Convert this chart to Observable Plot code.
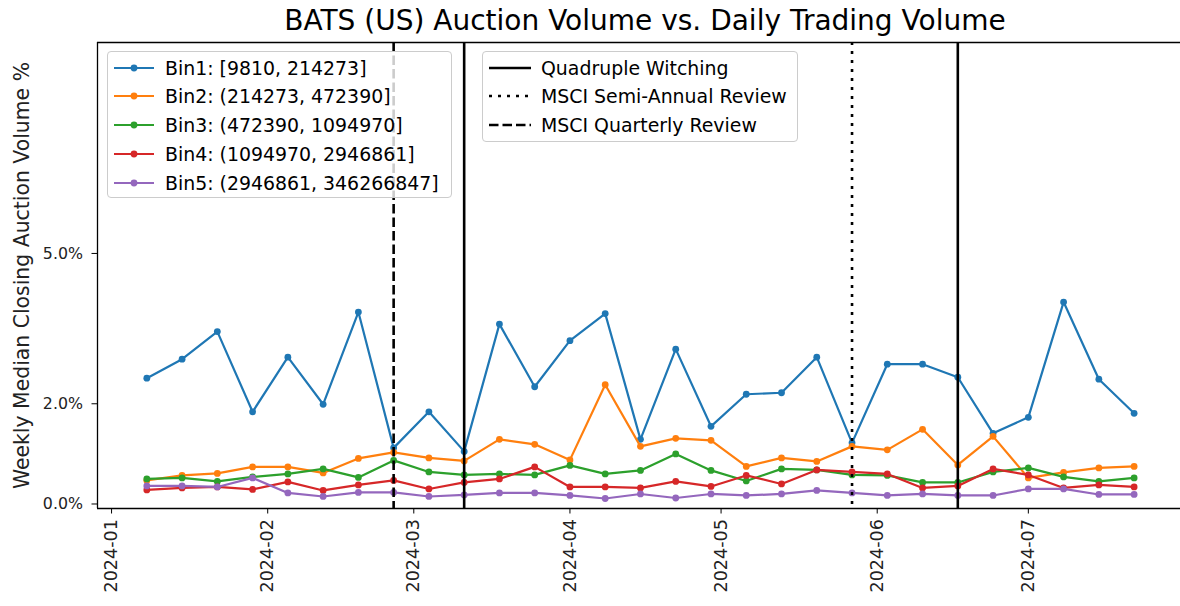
<!DOCTYPE html>
<html>
<head>
<meta charset="utf-8">
<script src="https://cdn.jsdelivr.net/npm/d3@7"></script>
<script src="https://cdn.jsdelivr.net/npm/@observablehq/plot@0.6"></script>
<style>
  html, body { margin: 0; padding: 0; background: #fff; }
  body { width: 1180px; height: 606px; position: relative; overflow: hidden; font-family: "DejaVu Sans", sans-serif; }
  #title { position: absolute; left: 0; top: 4px; width: 1290px; text-align: center; font-size: 28px; line-height: 34px; color: #000; white-space: nowrap; z-index: 3; }
  #chart { position: absolute; left: 0; top: 30px; z-index: 1; }
  .legend { position: absolute; z-index: 2; background: rgba(255,255,255,0.8); border: 1px solid #cccccc; border-radius: 4px; font-size: 18.9px; color: #000; box-sizing: border-box; }
  .legend .row { position: absolute; left: 0; display: flex; align-items: center; height: 28px; white-space: nowrap; }
  .legend svg { flex: none; }
</style>
</head>
<body>
<div id="title">BATS (US) Auction Volume vs. Daily Trading Volume</div>
<div id="chart"></div>
<div class="legend" id="leg1" style="left:107px; top:51px; width:345px; height:147px;"></div>
<div class="legend" id="leg2" style="left:482px; top:51px; width:316px; height:91px;"></div>
<script>
// ---- data ----
const weeks = ["2024-01-08","2024-01-15","2024-01-22","2024-01-29","2024-02-05","2024-02-12","2024-02-19","2024-02-26",
  "2024-03-04","2024-03-11","2024-03-18","2024-03-25","2024-04-01","2024-04-08","2024-04-15","2024-04-22","2024-04-29",
  "2024-05-06","2024-05-13","2024-05-20","2024-05-27","2024-06-03","2024-06-10","2024-06-17","2024-06-24","2024-07-01",
  "2024-07-08","2024-07-15","2024-07-22"];
const binNames = ["Bin1: [9810, 214273]","Bin2: (214273, 472390]","Bin3: (472390, 1094970]","Bin4: (1094970, 2946861]","Bin5: (2946861, 346266847]"];
const bin1 = [2.51,2.89,3.44,1.84,2.93,1.99,3.83,1.12,1.84,1.05,3.59,2.34,3.26,3.80,1.29,3.09,1.55,2.19,2.22,2.93,1.22,2.79,2.79,2.53,1.41,1.73,4.03,2.49,1.81];
const bin2 = [0.47,0.57,0.61,0.74,0.74,0.62,0.91,1.03,0.92,0.86,1.29,1.19,0.88,2.38,1.15,1.31,1.27,0.75,0.92,0.85,1.15,1.08,1.49,0.78,1.35,0.52,0.63,0.72,0.75];
const bin3 = [0.50,0.52,0.45,0.54,0.60,0.70,0.53,0.87,0.64,0.58,0.60,0.58,0.77,0.60,0.67,1.00,0.67,0.46,0.70,0.68,0.58,0.57,0.43,0.43,0.64,0.72,0.54,0.45,0.52];
const bin4 = [0.28,0.32,0.34,0.29,0.44,0.27,0.38,0.47,0.30,0.43,0.50,0.74,0.34,0.34,0.32,0.45,0.35,0.57,0.40,0.68,0.64,0.60,0.32,0.36,0.70,0.58,0.32,0.38,0.34];
const bin5 = [0.36,0.36,0.34,0.52,0.22,0.15,0.23,0.23,0.15,0.18,0.22,0.22,0.17,0.11,0.20,0.12,0.20,0.17,0.20,0.27,0.22,0.17,0.20,0.17,0.17,0.30,0.30,0.19,0.19];
const binColors = ["#1f77b4","#ff7f0e","#2ca02c","#d62728","#9467bd"];
const eventNames = ["Quadruple Witching","MSCI Semi-Annual Review","MSCI Quarterly Review"];
const eventDash = [null, "3,6", "9.5,4"];
const eventDates = [["2024-03-11","2024-06-17"],["2024-05-27"],["2024-02-26"]];
const monthTicks = ["2024-01-01","2024-02-01","2024-03-01","2024-04-01","2024-05-01","2024-06-01","2024-07-01"];
const yTicks = [0, 2, 5];
const xDomain = ["2023-12-29T05:00:00Z","2024-07-31T05:00:00Z"];
const yDomain = [-0.09, 9.21];
const yLabel = "Weekly Median Closing Auction Volume %";

// ---- build table ----
const series = [bin1, bin2, bin3, bin4, bin5];
const rows = [];
series.forEach((vals, i) => vals.forEach((v, j) => rows.push({bin: binNames[i], date: new Date(weeks[j] + "T00:00:00Z"), value: v})));
const events = [];
eventDates.forEach((ds, i) => ds.forEach(d => events.push({type: i, date: new Date(d + "T00:00:00Z")})));

const xd = xDomain.map(d => new Date(d));
const font = "DejaVu Sans";

const marks = [
  Plot.ruleX([xd[0]], {stroke: "#000", strokeWidth: 1.3}),
  Plot.ruleY([yDomain[0]], {stroke: "#000", strokeWidth: 1.3}),
  Plot.ruleY([yDomain[1]], {stroke: "#000", strokeWidth: 1.3}),
  Plot.axisX({ticks: monthTicks.map(d => new Date(d + "T00:00:00Z")), tickFormat: d3.utcFormat("%Y-%m"), tickRotate: -90, tickSize: 5.5, tickPadding: 5, fontSize: 17.6, label: null, stroke: "#000", color: "#222"}),
  Plot.axisY({ticks: yTicks, tickFormat: d => d.toFixed(1) + "%", tickSize: 5.5, tickPadding: 9, fontSize: 15.8, label: null, stroke: "#000", color: "#222"}),
  Plot.text([yLabel], {frameAnchor: "left", rotate: -90, dx: -75, textAnchor: "middle", fontSize: 20.4, fill: "#222", text: d => d}),
];
series.forEach((vals, i) => {
  const data = rows.filter(r => r.bin === binNames[i]);
  marks.push(Plot.line(data, {x: "date", y: "value", stroke: binColors[i], strokeWidth: 2.2}));
  marks.push(Plot.dot(data, {x: "date", y: "value", fill: binColors[i], r: 3.4}));
});
eventNames.forEach((n, i) => {
  marks.push(Plot.ruleX(events.filter(e => e.type === i), {x: "date", stroke: "#000", strokeWidth: 2.6, strokeDasharray: eventDash[i] || undefined}));
});

const chart = Plot.plot({
  width: 1180, height: 576,
  marginLeft: 97, marginRight: 0, marginTop: 12, marginBottom: 98,
  style: {fontFamily: font, background: "transparent", overflow: "visible"},
  x: {type: "utc", domain: xd},
  y: {domain: yDomain},
  marks
});
document.getElementById("chart").appendChild(chart);

// ---- legends ----
function legendRow(color, dash, name, withDot, top, lineW, textGap) {
  const row = document.createElement("div");
  row.className = "row";
  row.style.top = top + "px";
  let s = `<svg width="${lineW + 8}" height="14" style="margin-left:2px; margin-right:${textGap}px">`;
  s += `<line x1="4" x2="${lineW + 4}" y1="7" y2="7" stroke="${color}" stroke-width="${withDot ? 2.2 : 2.6}" ${dash ? `stroke-dasharray="${dash}"` : ""}/>`;
  if (withDot) s += `<circle cx="${lineW / 2 + 4}" cy="7" r="3.4" fill="${color}"/>`;
  s += `</svg>`;
  row.innerHTML = s + `<span>${name}</span>`;
  return row;
}
const leg1 = document.getElementById("leg1");
binNames.forEach((n, i) => leg1.appendChild(legendRow(binColors[i], null, n, true, 1.5 + 28.75 * i, 40, 7)));
const leg2 = document.getElementById("leg2");
eventNames.forEach((n, i) => leg2.appendChild(legendRow("#000", eventDash[i], n, false, 1.5 + 28.75 * i, 42, 6)));
</script>
</body>
</html>
